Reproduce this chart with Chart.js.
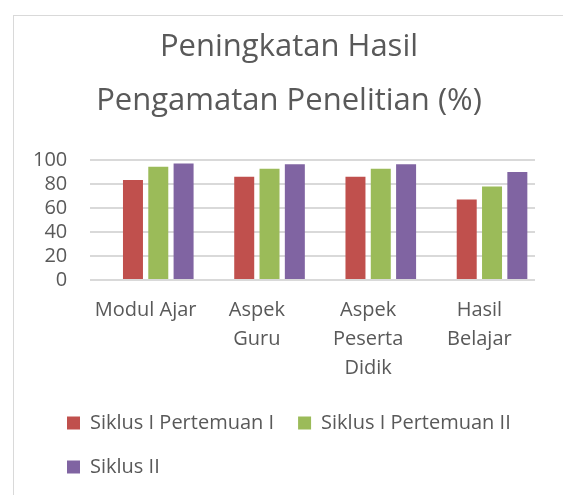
<!DOCTYPE html>
<html>
<head>
<meta charset="utf-8">
<script src="https://cdn.jsdelivr.net/npm/chart.js@4.4.1/dist/chart.umd.min.js"></script>
<style>
  html, body { margin: 0; padding: 0; background: #fff; overflow: hidden; }
  #marco { position: absolute; left: 13px; top: 15px; width: 600px; height: 600px; border: 1px solid #d9d9d9; }
  #grafico { position: absolute; left: 0; top: 0; }
</style>
</head>
<body>
<div id="marco"></div>
<canvas id="grafico" width="563" height="495"></canvas>
<script>
// datos
const categorias = [["Modul Ajar"], ["Aspek", "Guru"], ["Aspek", "Peserta", "Didik"], ["Hasil", "Belajar"]];
const nombresSeries = ["Siklus I Pertemuan I", "Siklus I Pertemuan II", "Siklus II"];
const serieVacia = [null, null, null, null]; // serie en blanco que ocupa el primer hueco del grupo
const siklus1Pertemuan1 = [83.3, 86, 86, 67];
const siklus1Pertemuan2 = [94.4, 92.8, 92.8, 78];
const siklus2 = [97, 96.4, 96.4, 90];
const ejeY = { min: 0, max: 100, paso: 20 };

const fuente = "'Open Sans', sans-serif";
const gris = "#595959";

const data = {
  labels: categorias,
  datasets: [
    { label: "", data: serieVacia, backgroundColor: "transparent" },
    { label: nombresSeries[0], data: siklus1Pertemuan1, backgroundColor: "#C0504D" },
    { label: nombresSeries[1], data: siklus1Pertemuan2, backgroundColor: "#9BBB59" },
    { label: nombresSeries[2], data: siklus2, backgroundColor: "#8064A2" },
  ],
};

const config = {
  type: "bar",
  data: data,
  options: {
    responsive: false,
    animation: false,
    devicePixelRatio: 1,
    datasets: { bar: { categoryPercentage: 0.91, barPercentage: 0.79 } },
    layout: { padding: { left: 43, right: 28, top: 0, bottom: 8 } },
    plugins: {
      title: {
        display: true,
        text: ["Peningkatan Hasil", "Pengamatan Penelitian (%)"],
        color: gris,
        font: { family: fuente, size: 31, weight: "normal", lineHeight: 54 / 31 },
        padding: { top: 20, bottom: 32 },
      },
      legend: {
        position: "bottom",
        align: "start",
        labels: {
          boxWidth: 13,
          boxHeight: 13,
          padding: 24,
          color: gris,
          font: { family: fuente, size: 20 },
          filter: (item) => item.text !== "",
        },
      },
      tooltip: { enabled: false },
    },
    scales: {
      x: {
        grid: { display: false, drawTicks: false },
        border: { display: false },
        ticks: {
          color: gris,
          font: { family: fuente, size: 20, lineHeight: 1.45 },
          padding: 16,
          maxRotation: 0,
          autoSkip: false,
        },
        afterFit: (escala) => { escala.height = 109; },
      },
      y: {
        min: ejeY.min,
        max: ejeY.max,
        // mirror + far para que las etiquetas queden alineadas a la derecha sin recortarse
        ticks: {
          stepSize: ejeY.paso,
          autoSkip: false,
          mirror: true,
          crossAlign: "far",
          padding: -57,
          color: gris,
          font: { family: fuente, size: 20 },
        },
        grid: { color: "#d9d9d9", lineWidth: 2, drawTicks: false },
        border: { display: false },
        afterFit: (escala) => { escala.width = 47; },
      },
    },
  },
};

const myChartElement = document.getElementById("grafico");
var myChart = new Chart(myChartElement, config);
</script>
</body>
</html>
